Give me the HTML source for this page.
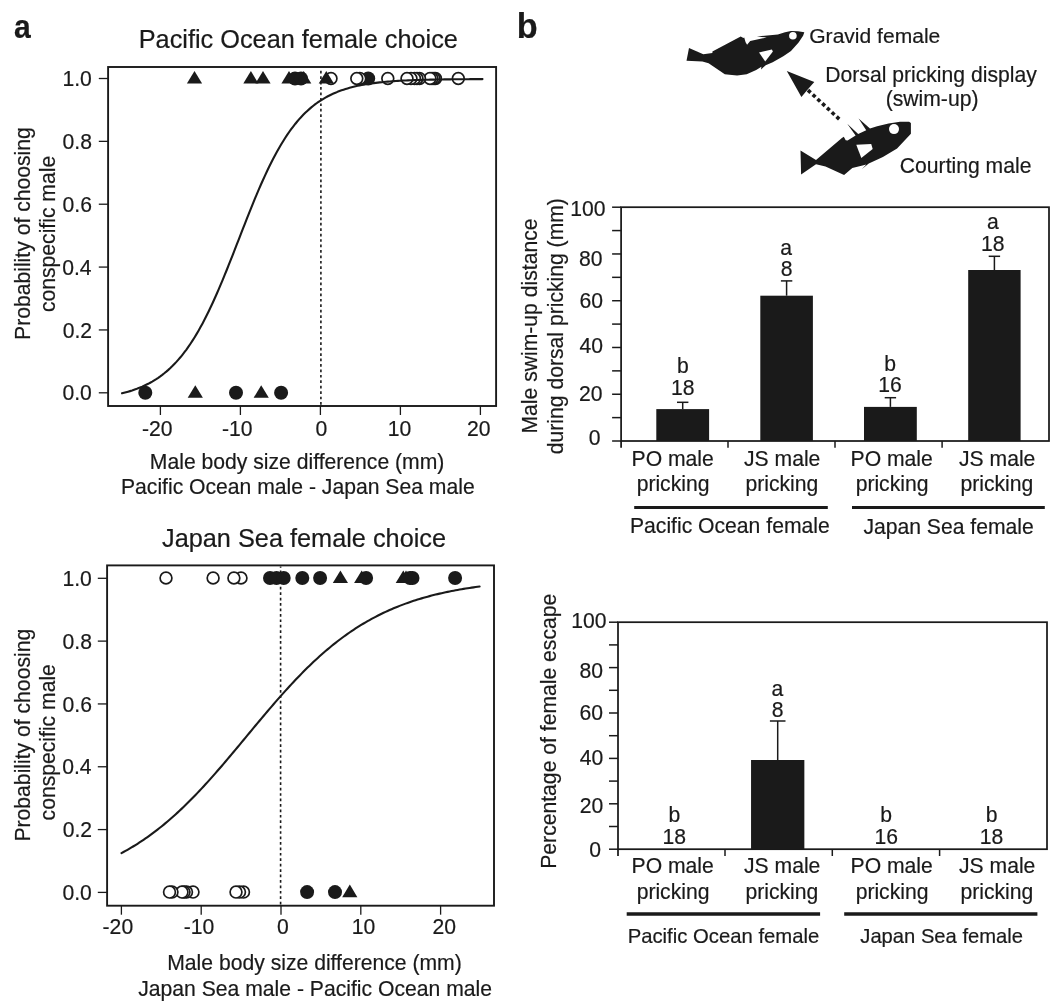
<!DOCTYPE html>
<html><head><meta charset="utf-8"><style>
html,body{margin:0;padding:0;background:#fff;}
svg{display:block;filter:grayscale(1);}
text{font-family:"Liberation Sans", sans-serif;fill:#1a1a1a;stroke:#1a1a1a;stroke-width:0.2px;}
</style></head><body>
<svg width="1050" height="1008" viewBox="0 0 1050 1008">
<rect width="1050" height="1008" fill="#fff"/>
<text transform="translate(15.0,37.7) scale(0.885,1)" x="-1.02" y="0" font-size="34" font-weight="bold">a</text>
<text x="138.71" y="48.20" font-size="25.3">Pacific Ocean female choice</text>
<rect x="108.10" y="67.00" width="388.00" height="339.00" fill="none" stroke="#1a1a1a" stroke-width="1.9"/>
<line x1="98.80" y1="392.80" x2="108.10" y2="392.80" stroke="#1a1a1a" stroke-width="1.3" />
<text x="62.39" y="400.40" font-size="21.15">0.0</text>
<line x1="98.80" y1="329.94" x2="108.10" y2="329.94" stroke="#1a1a1a" stroke-width="1.3" />
<text x="62.66" y="337.54" font-size="21.15">0.2</text>
<line x1="98.80" y1="267.08" x2="108.10" y2="267.08" stroke="#1a1a1a" stroke-width="1.3" />
<text x="62.18" y="274.68" font-size="21.15">0.4</text>
<line x1="98.80" y1="204.22" x2="108.10" y2="204.22" stroke="#1a1a1a" stroke-width="1.3" />
<text x="62.50" y="211.82" font-size="21.15">0.6</text>
<line x1="98.80" y1="141.36" x2="108.10" y2="141.36" stroke="#1a1a1a" stroke-width="1.3" />
<text x="62.50" y="148.96" font-size="21.15">0.8</text>
<line x1="98.80" y1="78.50" x2="108.10" y2="78.50" stroke="#1a1a1a" stroke-width="1.3" />
<text x="62.39" y="86.10" font-size="21.15">1.0</text>
<line x1="160.40" y1="406.00" x2="160.40" y2="415.00" stroke="#1a1a1a" stroke-width="1.3" />
<text x="142.04" y="435.60" font-size="21.15">-20</text>
<line x1="240.40" y1="406.00" x2="240.40" y2="415.00" stroke="#1a1a1a" stroke-width="1.3" />
<text x="222.04" y="435.60" font-size="21.15">-10</text>
<line x1="320.40" y1="406.00" x2="320.40" y2="415.00" stroke="#1a1a1a" stroke-width="1.3" />
<text x="315.60" y="435.60" font-size="21.15">0</text>
<line x1="400.40" y1="406.00" x2="400.40" y2="415.00" stroke="#1a1a1a" stroke-width="1.3" />
<text x="387.67" y="435.60" font-size="21.15">10</text>
<line x1="480.40" y1="406.00" x2="480.40" y2="415.00" stroke="#1a1a1a" stroke-width="1.3" />
<text x="467.03" y="435.60" font-size="21.15">20</text>
<circle cx="368.20" cy="78.50" r="7" fill="#1a1a1a"/>
<circle cx="458.30" cy="78.50" r="5.9" fill="#fff" stroke="#1a1a1a" stroke-width="1.7"/>
<circle cx="435.50" cy="78.50" r="5.9" fill="#fff" stroke="#1a1a1a" stroke-width="1.7"/>
<circle cx="434.00" cy="78.50" r="5.9" fill="#fff" stroke="#1a1a1a" stroke-width="1.7"/>
<circle cx="432.00" cy="78.50" r="5.9" fill="#fff" stroke="#1a1a1a" stroke-width="1.7"/>
<circle cx="430.00" cy="78.50" r="5.9" fill="#fff" stroke="#1a1a1a" stroke-width="1.7"/>
<circle cx="419.50" cy="78.50" r="5.9" fill="#fff" stroke="#1a1a1a" stroke-width="1.7"/>
<circle cx="417.00" cy="78.50" r="5.9" fill="#fff" stroke="#1a1a1a" stroke-width="1.7"/>
<circle cx="414.50" cy="78.50" r="5.9" fill="#fff" stroke="#1a1a1a" stroke-width="1.7"/>
<circle cx="411.00" cy="78.50" r="5.9" fill="#fff" stroke="#1a1a1a" stroke-width="1.7"/>
<circle cx="407.00" cy="78.50" r="5.9" fill="#fff" stroke="#1a1a1a" stroke-width="1.7"/>
<circle cx="387.80" cy="78.50" r="5.9" fill="#fff" stroke="#1a1a1a" stroke-width="1.7"/>
<circle cx="359.80" cy="78.50" r="5.9" fill="#fff" stroke="#1a1a1a" stroke-width="1.7"/>
<circle cx="356.80" cy="78.50" r="5.9" fill="#fff" stroke="#1a1a1a" stroke-width="1.7"/>
<circle cx="331.00" cy="78.50" r="5.9" fill="#fff" stroke="#1a1a1a" stroke-width="1.7"/>
<circle cx="295.00" cy="78.50" r="7" fill="#1a1a1a"/>
<circle cx="301.00" cy="78.50" r="7" fill="#1a1a1a"/>
<circle cx="145.30" cy="392.70" r="7" fill="#1a1a1a"/>
<circle cx="236.00" cy="392.70" r="7" fill="#1a1a1a"/>
<circle cx="281.10" cy="392.70" r="7" fill="#1a1a1a"/>
<polygon points="194.50,71.00 202.10,83.60 186.90,83.60" fill="#1a1a1a"/>
<polygon points="250.90,71.00 258.50,83.60 243.30,83.60" fill="#1a1a1a"/>
<polygon points="263.00,71.00 270.60,83.60 255.40,83.60" fill="#1a1a1a"/>
<polygon points="289.00,71.00 296.60,83.60 281.40,83.60" fill="#1a1a1a"/>
<polygon points="303.70,71.00 311.30,83.60 296.10,83.60" fill="#1a1a1a"/>
<polygon points="326.30,71.00 333.90,83.60 318.70,83.60" fill="#1a1a1a"/>
<polygon points="195.30,385.20 202.90,397.80 187.70,397.80" fill="#1a1a1a"/>
<polygon points="261.20,385.20 268.80,397.80 253.60,397.80" fill="#1a1a1a"/>
<line x1="320.90" y1="68.00" x2="320.90" y2="405.00" stroke="#1a1a1a" stroke-width="1.6" stroke-dasharray="2.7 2.73" stroke-dashoffset="2.6"/>
<path d="M122.00,393.33 L124.01,392.83 L126.03,392.30 L128.04,391.73 L130.06,391.13 L132.07,390.50 L134.08,389.82 L136.10,389.11 L138.11,388.35 L140.13,387.54 L142.14,386.69 L144.15,385.78 L146.17,384.82 L148.18,383.81 L150.20,382.73 L152.21,381.60 L154.22,380.39 L156.24,379.12 L158.25,377.78 L160.27,376.36 L162.28,374.87 L164.29,373.29 L166.31,371.62 L168.32,369.87 L170.34,368.03 L172.35,366.08 L174.36,364.04 L176.38,361.90 L178.39,359.65 L180.41,357.29 L182.42,354.81 L184.43,352.22 L186.45,349.52 L188.46,346.69 L190.47,343.74 L192.49,340.66 L194.50,337.46 L196.52,334.13 L198.53,330.68 L200.54,327.09 L202.56,323.38 L204.57,319.55 L206.59,315.58 L208.60,311.50 L210.61,307.30 L212.63,302.98 L214.64,298.55 L216.66,294.02 L218.67,289.38 L220.68,284.66 L222.70,279.84 L224.71,274.95 L226.73,269.99 L228.74,264.96 L230.75,259.88 L232.77,254.77 L234.78,249.62 L236.80,244.44 L238.81,239.26 L240.82,234.08 L242.84,228.91 L244.85,223.76 L246.87,218.64 L248.88,213.57 L250.89,208.54 L252.91,203.58 L254.92,198.69 L256.94,193.88 L258.95,189.15 L260.96,184.52 L262.98,179.99 L264.99,175.56 L267.01,171.25 L269.02,167.06 L271.03,162.98 L273.05,159.03 L275.06,155.21 L277.08,151.51 L279.09,147.94 L281.10,144.50 L283.12,141.18 L285.13,138.00 L287.15,134.94 L289.16,132.01 L291.17,129.21 L293.19,126.52 L295.20,123.96 L297.22,121.51 L299.23,119.18 L301.24,116.95 L303.26,114.84 L305.27,112.83 L307.28,110.91 L309.30,109.10 L311.31,107.37 L313.33,105.74 L315.34,104.19 L317.35,102.73 L319.37,101.34 L321.38,100.03 L323.40,98.79 L325.41,97.62 L327.42,96.51 L329.44,95.47 L331.45,94.48 L333.47,93.56 L335.48,92.68 L337.49,91.85 L339.51,91.08 L341.52,90.34 L343.54,89.65 L345.55,89.01 L347.56,88.39 L349.58,87.82 L351.59,87.28 L353.61,86.77 L355.62,86.29 L357.63,85.84 L359.65,85.42 L361.66,85.03 L363.68,84.65 L365.69,84.30 L367.70,83.97 L369.72,83.67 L371.73,83.38 L373.75,83.10 L375.76,82.85 L377.77,82.61 L379.79,82.38 L381.80,82.17 L383.82,81.97 L385.83,81.79 L387.84,81.61 L389.86,81.45 L391.87,81.30 L393.89,81.15 L395.90,81.02 L397.91,80.89 L399.93,80.77 L401.94,80.66 L403.96,80.56 L405.97,80.46 L407.98,80.37 L410.00,80.28 L412.01,80.20 L414.03,80.12 L416.04,80.05 L418.05,79.99 L420.07,79.92 L422.08,79.86 L424.09,79.81 L426.11,79.76 L428.12,79.71 L430.14,79.66 L432.15,79.62 L434.16,79.58 L436.18,79.54 L438.19,79.51 L440.21,79.48 L442.22,79.45 L444.23,79.42 L446.25,79.39 L448.26,79.37 L450.28,79.34 L452.29,79.32 L454.30,79.30 L456.32,79.28 L458.33,79.26 L460.35,79.24 L462.36,79.23 L464.37,79.21 L466.39,79.20 L468.40,79.19 L470.42,79.17 L472.43,79.16 L474.44,79.15 L476.46,79.14 L478.47,79.13 L480.49,79.12 L482.50,79.11" fill="none" stroke="#1a1a1a" stroke-width="2.1" stroke-linecap="round" stroke-linejoin="round"/>
<text x="149.86" y="468.90" font-size="21.15">Male body size difference (mm)</text>
<text x="120.96" y="493.60" font-size="21.15">Pacific Ocean male - Japan Sea male</text>
<text transform="translate(30.30,339.94) rotate(-90)" x="0" y="0" font-size="21.15">Probability of choosing</text>
<text transform="translate(55.40,312.10) rotate(-90)" x="0" y="0" font-size="21.15">conspecific male</text>
<text x="162.02" y="547.00" font-size="25.3">Japan Sea female choice</text>
<rect x="107.10" y="565.40" width="386.90" height="340.30" fill="none" stroke="#1a1a1a" stroke-width="1.9"/>
<line x1="97.80" y1="892.40" x2="107.10" y2="892.40" stroke="#1a1a1a" stroke-width="1.3" />
<text x="62.39" y="900.00" font-size="21.15">0.0</text>
<line x1="97.80" y1="829.58" x2="107.10" y2="829.58" stroke="#1a1a1a" stroke-width="1.3" />
<text x="62.66" y="837.18" font-size="21.15">0.2</text>
<line x1="97.80" y1="766.76" x2="107.10" y2="766.76" stroke="#1a1a1a" stroke-width="1.3" />
<text x="62.18" y="774.36" font-size="21.15">0.4</text>
<line x1="97.80" y1="703.94" x2="107.10" y2="703.94" stroke="#1a1a1a" stroke-width="1.3" />
<text x="62.50" y="711.54" font-size="21.15">0.6</text>
<line x1="97.80" y1="641.12" x2="107.10" y2="641.12" stroke="#1a1a1a" stroke-width="1.3" />
<text x="62.50" y="648.72" font-size="21.15">0.8</text>
<line x1="97.80" y1="578.30" x2="107.10" y2="578.30" stroke="#1a1a1a" stroke-width="1.3" />
<text x="62.39" y="585.90" font-size="21.15">1.0</text>
<line x1="121.40" y1="905.70" x2="121.40" y2="914.70" stroke="#1a1a1a" stroke-width="1.3" />
<text x="102.59" y="934.40" font-size="21.15">-20</text>
<line x1="201.20" y1="905.70" x2="201.20" y2="914.70" stroke="#1a1a1a" stroke-width="1.3" />
<text x="183.64" y="934.40" font-size="21.15">-10</text>
<line x1="281.00" y1="905.70" x2="281.00" y2="914.70" stroke="#1a1a1a" stroke-width="1.3" />
<text x="276.90" y="934.40" font-size="21.15">0</text>
<line x1="360.80" y1="905.70" x2="360.80" y2="914.70" stroke="#1a1a1a" stroke-width="1.3" />
<text x="351.67" y="934.40" font-size="21.15">10</text>
<line x1="440.60" y1="905.70" x2="440.60" y2="914.70" stroke="#1a1a1a" stroke-width="1.3" />
<text x="432.43" y="934.40" font-size="21.15">20</text>
<circle cx="241.00" cy="578.00" r="5.9" fill="#fff" stroke="#1a1a1a" stroke-width="1.7"/>
<circle cx="233.90" cy="578.00" r="5.9" fill="#fff" stroke="#1a1a1a" stroke-width="1.7"/>
<circle cx="213.10" cy="578.00" r="5.9" fill="#fff" stroke="#1a1a1a" stroke-width="1.7"/>
<circle cx="166.00" cy="578.00" r="5.9" fill="#fff" stroke="#1a1a1a" stroke-width="1.7"/>
<circle cx="243.50" cy="892.10" r="5.9" fill="#fff" stroke="#1a1a1a" stroke-width="1.7"/>
<circle cx="239.50" cy="892.10" r="5.9" fill="#fff" stroke="#1a1a1a" stroke-width="1.7"/>
<circle cx="236.00" cy="892.10" r="5.9" fill="#fff" stroke="#1a1a1a" stroke-width="1.7"/>
<circle cx="193.00" cy="892.10" r="5.9" fill="#fff" stroke="#1a1a1a" stroke-width="1.7"/>
<circle cx="186.50" cy="892.10" r="5.9" fill="#fff" stroke="#1a1a1a" stroke-width="1.7"/>
<circle cx="184.00" cy="892.10" r="5.9" fill="#fff" stroke="#1a1a1a" stroke-width="1.7"/>
<circle cx="182.00" cy="892.10" r="5.9" fill="#fff" stroke="#1a1a1a" stroke-width="1.7"/>
<circle cx="172.00" cy="892.10" r="5.9" fill="#fff" stroke="#1a1a1a" stroke-width="1.7"/>
<circle cx="169.50" cy="892.10" r="5.9" fill="#fff" stroke="#1a1a1a" stroke-width="1.7"/>
<circle cx="270.00" cy="578.00" r="7" fill="#1a1a1a"/>
<circle cx="276.50" cy="578.00" r="7" fill="#1a1a1a"/>
<circle cx="283.70" cy="578.00" r="7" fill="#1a1a1a"/>
<circle cx="302.30" cy="578.00" r="7" fill="#1a1a1a"/>
<circle cx="320.10" cy="578.00" r="7" fill="#1a1a1a"/>
<circle cx="366.10" cy="578.00" r="7" fill="#1a1a1a"/>
<circle cx="410.00" cy="578.00" r="7" fill="#1a1a1a"/>
<circle cx="412.50" cy="578.00" r="7" fill="#1a1a1a"/>
<circle cx="455.10" cy="578.00" r="7" fill="#1a1a1a"/>
<circle cx="307.10" cy="892.10" r="7" fill="#1a1a1a"/>
<circle cx="335.00" cy="892.10" r="7" fill="#1a1a1a"/>
<polygon points="340.40,570.50 348.00,583.10 332.80,583.10" fill="#1a1a1a"/>
<polygon points="361.70,570.50 369.30,583.10 354.10,583.10" fill="#1a1a1a"/>
<polygon points="403.30,570.50 410.90,583.10 395.70,583.10" fill="#1a1a1a"/>
<polygon points="406.00,570.50 413.60,583.10 398.40,583.10" fill="#1a1a1a"/>
<polygon points="349.80,884.60 357.40,897.20 342.20,897.20" fill="#1a1a1a"/>
<line x1="280.60" y1="566.40" x2="280.60" y2="904.70" stroke="#1a1a1a" stroke-width="1.6" stroke-dasharray="2.7 2.73" stroke-dashoffset="1.3"/>
<path d="M121.50,853.12 L123.50,852.04 L125.50,850.94 L127.50,849.81 L129.50,848.65 L131.50,847.47 L133.50,846.26 L135.50,845.03 L137.50,843.77 L139.51,842.48 L141.51,841.17 L143.51,839.82 L145.51,838.45 L147.51,837.05 L149.51,835.62 L151.51,834.17 L153.51,832.68 L155.51,831.17 L157.51,829.63 L159.51,828.05 L161.51,826.45 L163.51,824.83 L165.51,823.17 L167.51,821.48 L169.51,819.77 L171.51,818.02 L173.51,816.25 L175.52,814.45 L177.52,812.62 L179.52,810.77 L181.52,808.88 L183.52,806.97 L185.52,805.03 L187.52,803.07 L189.52,801.08 L191.52,799.07 L193.52,797.03 L195.52,794.96 L197.52,792.87 L199.52,790.76 L201.52,788.62 L203.52,786.47 L205.52,784.29 L207.52,782.09 L209.52,779.87 L211.53,777.63 L213.53,775.38 L215.53,773.10 L217.53,770.81 L219.53,768.51 L221.53,766.19 L223.53,763.86 L225.53,761.51 L227.53,759.15 L229.53,756.78 L231.53,754.41 L233.53,752.02 L235.53,749.63 L237.53,747.23 L239.53,744.82 L241.53,742.41 L243.53,740.00 L245.53,737.59 L247.54,735.17 L249.54,732.76 L251.54,730.35 L253.54,727.94 L255.54,725.53 L257.54,723.13 L259.54,720.74 L261.54,718.35 L263.54,715.97 L265.54,713.60 L267.54,711.25 L269.54,708.90 L271.54,706.56 L273.54,704.24 L275.54,701.93 L277.54,699.64 L279.54,697.36 L281.54,695.10 L283.55,692.86 L285.55,690.64 L287.55,688.44 L289.55,686.25 L291.55,684.09 L293.55,681.95 L295.55,679.83 L297.55,677.74 L299.55,675.67 L301.55,673.62 L303.55,671.59 L305.55,669.60 L307.55,667.62 L309.55,665.68 L311.55,663.76 L313.55,661.86 L315.55,659.99 L317.55,658.15 L319.56,656.34 L321.56,654.56 L323.56,652.80 L325.56,651.07 L327.56,649.37 L329.56,647.70 L331.56,646.05 L333.56,644.43 L335.56,642.84 L337.56,641.28 L339.56,639.75 L341.56,638.25 L343.56,636.77 L345.56,635.32 L347.56,633.90 L349.56,632.51 L351.56,631.14 L353.56,629.81 L355.57,628.49 L357.57,627.21 L359.57,625.95 L361.57,624.72 L363.57,623.51 L365.57,622.33 L367.57,621.18 L369.57,620.05 L371.57,618.94 L373.57,617.86 L375.57,616.81 L377.57,615.78 L379.57,614.77 L381.57,613.78 L383.57,612.82 L385.57,611.88 L387.57,610.96 L389.57,610.06 L391.58,609.19 L393.58,608.33 L395.58,607.50 L397.58,606.69 L399.58,605.89 L401.58,605.12 L403.58,604.37 L405.58,603.63 L407.58,602.91 L409.58,602.21 L411.58,601.53 L413.58,600.87 L415.58,600.22 L417.58,599.59 L419.58,598.97 L421.58,598.37 L423.58,597.79 L425.58,597.22 L427.59,596.67 L429.59,596.13 L431.59,595.60 L433.59,595.09 L435.59,594.60 L437.59,594.11 L439.59,593.64 L441.59,593.18 L443.59,592.74 L445.59,592.30 L447.59,591.88 L449.59,591.47 L451.59,591.07 L453.59,590.68 L455.59,590.30 L457.59,589.94 L459.59,589.58 L461.59,589.23 L463.60,588.89 L465.60,588.56 L467.60,588.25 L469.60,587.93 L471.60,587.63 L473.60,587.34 L475.60,587.05 L477.60,586.78 L479.60,586.51" fill="none" stroke="#1a1a1a" stroke-width="2.1" stroke-linecap="round" stroke-linejoin="round"/>
<text x="167.26" y="970.20" font-size="21.15">Male body size difference (mm)</text>
<text x="138.28" y="995.50" font-size="21.15">Japan Sea male - Pacific Ocean male</text>
<text transform="translate(30.30,841.54) rotate(-90)" x="0" y="0" font-size="21.15">Probability of choosing</text>
<text transform="translate(55.40,820.40) rotate(-90)" x="0" y="0" font-size="21.15">conspecific male</text>
<text x="516.77" y="37.60" font-size="34.3" font-weight="bold">b</text>
<text x="809.25" y="43.00" font-size="21.05">Gravid female</text>
<text x="825.26" y="81.50" font-size="21.15">Dorsal pricking display</text>
<text x="885.68" y="106.20" font-size="21.15">(swim-up)</text>
<text x="899.84" y="172.50" font-size="21.15">Courting male</text>
<path d="M689,48.1 L703.3,54.3 L712.4,52.9 L712.4,51.4 L740.7,36.5 L743.4,38.0 L744.2,37.6 L745.6,42.2 L747.1,44.7 L750.2,41.1 L766.7,37.5 L756.9,36.4 L777.9,34.6 L785,32.3 L791,31.1 L798,31.2 L804.3,32.2 L803.1,35.7 L798.6,42.5 L791,50.9 L783.3,56.2 L772.7,62.3 L765.7,65.2 L761,69.5 L761.4,66.7 L756.2,70 L746.7,74.3 L737.1,75.5 L729.5,74.8 L724.8,74.3 L708.6,63.3 L702.4,61.4 L686.5,60.7 Z" fill="#1a1a1a"/>
<polygon points="759,52.4 771.9,49.5 772.9,51.4 765.2,61.4" fill="#fff"/>
<circle cx="792.9" cy="35.7" r="3.8" fill="#fff"/>
<path d="M800.5,150.5 L816,160 L841.9,137.9 L843.8,136.8 L845.7,140.2 L847.6,140.6 L855.6,135.6 L847.2,123.8 L858.2,134.1 L866.2,130.3 L858.6,118.5 L870,128.6 L877.1,126.3 L888.6,123.4 L900,121.7 L909.1,121.7 L910.9,123.1 L910.9,133.7 L897.1,148.6 L882.9,157.1 L868.8,163.6 L862.0,168.9 L866.3,164.5 L861.5,165.7 L852.3,168.0 L844.1,174.9 L825.5,166.5 L816,164.2 L801.1,174.5 Z" fill="#1a1a1a"/>
<polygon points="856.3,144.8 871.2,144 872.7,149 861.3,158.1" fill="#fff"/>
<circle cx="894" cy="129.1" r="5" fill="#fff"/>
<polygon points="786.8,71.1 814.3,82.1 807.9,89.3 801.4,97.1" fill="#1a1a1a"/>
<rect x="807.50" y="89.60" width="3.6" height="3.6" fill="#1a1a1a" transform="rotate(43 809.30 91.40)"/>
<rect x="812.27" y="94.02" width="3.6" height="3.6" fill="#1a1a1a" transform="rotate(43 814.07 95.82)"/>
<rect x="817.03" y="98.43" width="3.6" height="3.6" fill="#1a1a1a" transform="rotate(43 818.83 100.23)"/>
<rect x="821.80" y="102.85" width="3.6" height="3.6" fill="#1a1a1a" transform="rotate(43 823.60 104.65)"/>
<rect x="826.57" y="107.27" width="3.6" height="3.6" fill="#1a1a1a" transform="rotate(43 828.37 109.07)"/>
<rect x="831.33" y="111.68" width="3.6" height="3.6" fill="#1a1a1a" transform="rotate(43 833.13 113.48)"/>
<rect x="836.10" y="116.10" width="3.6" height="3.6" fill="#1a1a1a" transform="rotate(43 837.90 117.90)"/>
<rect x="621.10" y="207.20" width="427.90" height="233.80" fill="none" stroke="#1a1a1a" stroke-width="1.75"/>
<line x1="621.10" y1="441.00" x2="621.10" y2="447.80" stroke="#1a1a1a" stroke-width="1.75" />
<line x1="612.10" y1="441.00" x2="621.10" y2="441.00" stroke="#1a1a1a" stroke-width="1.5" />
<text x="588.75" y="444.70" font-size="21.15">0</text>
<line x1="612.10" y1="417.62" x2="621.10" y2="417.62" stroke="#1a1a1a" stroke-width="1.5" />
<line x1="612.10" y1="394.24" x2="621.10" y2="394.24" stroke="#1a1a1a" stroke-width="1.5" />
<text x="579.12" y="400.60" font-size="21.15">20</text>
<line x1="612.10" y1="370.86" x2="621.10" y2="370.86" stroke="#1a1a1a" stroke-width="1.5" />
<line x1="612.10" y1="347.48" x2="621.10" y2="347.48" stroke="#1a1a1a" stroke-width="1.5" />
<text x="579.42" y="352.80" font-size="21.15">40</text>
<line x1="612.10" y1="324.10" x2="621.10" y2="324.10" stroke="#1a1a1a" stroke-width="1.5" />
<line x1="612.10" y1="300.72" x2="621.10" y2="300.72" stroke="#1a1a1a" stroke-width="1.5" />
<text x="579.52" y="308.30" font-size="21.15">60</text>
<line x1="612.10" y1="277.34" x2="621.10" y2="277.34" stroke="#1a1a1a" stroke-width="1.5" />
<line x1="612.10" y1="253.96" x2="621.10" y2="253.96" stroke="#1a1a1a" stroke-width="1.5" />
<text x="579.02" y="265.50" font-size="21.15">80</text>
<line x1="612.10" y1="230.58" x2="621.10" y2="230.58" stroke="#1a1a1a" stroke-width="1.5" />
<line x1="612.10" y1="207.20" x2="621.10" y2="207.20" stroke="#1a1a1a" stroke-width="1.5" />
<text x="570.13" y="216.10" font-size="21.15">100</text>
<line x1="728.00" y1="441.00" x2="728.00" y2="447.80" stroke="#1a1a1a" stroke-width="1.5" />
<line x1="835.00" y1="441.00" x2="835.00" y2="447.80" stroke="#1a1a1a" stroke-width="1.5" />
<line x1="942.10" y1="441.00" x2="942.10" y2="447.80" stroke="#1a1a1a" stroke-width="1.5" />
<rect x="656.30" y="409.10" width="52.80" height="31.90" fill="#1a1a1a"/>
<line x1="682.70" y1="402.30" x2="682.70" y2="409.10" stroke="#1a1a1a" stroke-width="1.5" />
<line x1="677.00" y1="402.30" x2="688.40" y2="402.30" stroke="#1a1a1a" stroke-width="1.5" />
<text x="671.12" y="395.20" font-size="21.15">18</text>
<text x="677.07" y="373.30" font-size="21.15">b</text>
<rect x="760.30" y="295.70" width="52.60" height="145.30" fill="#1a1a1a"/>
<line x1="786.60" y1="280.90" x2="786.60" y2="295.70" stroke="#1a1a1a" stroke-width="1.5" />
<line x1="780.90" y1="280.90" x2="792.30" y2="280.90" stroke="#1a1a1a" stroke-width="1.5" />
<text x="780.73" y="276.40" font-size="21.15">8</text>
<text x="780.28" y="254.70" font-size="21.15">a</text>
<rect x="864.00" y="406.90" width="52.80" height="34.10" fill="#1a1a1a"/>
<line x1="890.40" y1="397.70" x2="890.40" y2="406.90" stroke="#1a1a1a" stroke-width="1.5" />
<line x1="884.70" y1="397.70" x2="896.10" y2="397.70" stroke="#1a1a1a" stroke-width="1.5" />
<text x="878.32" y="391.80" font-size="21.15">16</text>
<text x="884.27" y="370.70" font-size="21.15">b</text>
<rect x="968.20" y="270.00" width="52.40" height="171.00" fill="#1a1a1a"/>
<line x1="994.40" y1="256.30" x2="994.40" y2="270.00" stroke="#1a1a1a" stroke-width="1.5" />
<line x1="988.70" y1="256.30" x2="1000.10" y2="256.30" stroke="#1a1a1a" stroke-width="1.5" />
<text x="981.12" y="250.80" font-size="21.15">18</text>
<text x="986.88" y="228.50" font-size="21.15">a</text>
<text x="631.54" y="465.80" font-size="21.15">PO male</text>
<text x="636.64" y="491.20" font-size="21.15">pricking</text>
<text x="744.02" y="465.80" font-size="21.15">JS male</text>
<text x="745.44" y="491.20" font-size="21.15">pricking</text>
<text x="850.54" y="465.80" font-size="21.15">PO male</text>
<text x="855.64" y="491.20" font-size="21.15">pricking</text>
<text x="959.02" y="465.80" font-size="21.15">JS male</text>
<text x="960.44" y="491.20" font-size="21.15">pricking</text>
<line x1="634.20" y1="507.50" x2="827.80" y2="507.50" stroke="#1a1a1a" stroke-width="3.0" />
<line x1="852.00" y1="507.50" x2="1044.80" y2="507.50" stroke="#1a1a1a" stroke-width="3.0" />
<text x="629.96" y="533.00" font-size="21.15">Pacific Ocean female</text>
<text x="863.38" y="533.60" font-size="21.15">Japan Sea female</text>
<text transform="translate(537.30,433.54) rotate(-90)" x="0" y="0" font-size="21.15">Male swim-up distance</text>
<text transform="translate(562.60,454.20) rotate(-90)" x="0" y="0" font-size="21.15">during dorsal pricking (mm)</text>
<rect x="618.00" y="622.20" width="429.00" height="227.00" fill="none" stroke="#1a1a1a" stroke-width="1.75"/>
<line x1="618.00" y1="849.20" x2="618.00" y2="856.00" stroke="#1a1a1a" stroke-width="1.75" />
<line x1="609.00" y1="849.20" x2="618.00" y2="849.20" stroke="#1a1a1a" stroke-width="1.5" />
<text x="589.35" y="856.60" font-size="21.15">0</text>
<line x1="609.00" y1="826.50" x2="618.00" y2="826.50" stroke="#1a1a1a" stroke-width="1.5" />
<line x1="609.00" y1="803.80" x2="618.00" y2="803.80" stroke="#1a1a1a" stroke-width="1.5" />
<text x="579.72" y="813.10" font-size="21.15">20</text>
<line x1="609.00" y1="781.10" x2="618.00" y2="781.10" stroke="#1a1a1a" stroke-width="1.5" />
<line x1="609.00" y1="758.40" x2="618.00" y2="758.40" stroke="#1a1a1a" stroke-width="1.5" />
<text x="579.72" y="765.20" font-size="21.15">40</text>
<line x1="609.00" y1="735.70" x2="618.00" y2="735.70" stroke="#1a1a1a" stroke-width="1.5" />
<line x1="609.00" y1="713.00" x2="618.00" y2="713.00" stroke="#1a1a1a" stroke-width="1.5" />
<text x="579.62" y="720.20" font-size="21.15">60</text>
<line x1="609.00" y1="690.30" x2="618.00" y2="690.30" stroke="#1a1a1a" stroke-width="1.5" />
<line x1="609.00" y1="667.60" x2="618.00" y2="667.60" stroke="#1a1a1a" stroke-width="1.5" />
<text x="579.62" y="677.70" font-size="21.15">80</text>
<line x1="609.00" y1="644.90" x2="618.00" y2="644.90" stroke="#1a1a1a" stroke-width="1.5" />
<line x1="609.00" y1="622.20" x2="618.00" y2="622.20" stroke="#1a1a1a" stroke-width="1.5" />
<text x="571.33" y="627.70" font-size="21.15">100</text>
<line x1="725.00" y1="849.20" x2="725.00" y2="856.00" stroke="#1a1a1a" stroke-width="1.5" />
<line x1="832.30" y1="849.20" x2="832.30" y2="856.00" stroke="#1a1a1a" stroke-width="1.5" />
<line x1="939.60" y1="849.20" x2="939.60" y2="856.00" stroke="#1a1a1a" stroke-width="1.5" />
<text x="662.52" y="843.70" font-size="21.15">18</text>
<text x="668.47" y="821.50" font-size="21.15">b</text>
<rect x="751.05" y="760.00" width="53.30" height="89.20" fill="#1a1a1a"/>
<line x1="777.70" y1="721.00" x2="777.70" y2="760.00" stroke="#1a1a1a" stroke-width="1.5" />
<line x1="769.90" y1="721.00" x2="785.50" y2="721.00" stroke="#1a1a1a" stroke-width="1.5" />
<text x="771.83" y="716.80" font-size="21.15">8</text>
<text x="771.38" y="696.10" font-size="21.15">a</text>
<text x="874.42" y="843.70" font-size="21.15">16</text>
<text x="880.37" y="821.50" font-size="21.15">b</text>
<text x="979.72" y="843.70" font-size="21.15">18</text>
<text x="985.67" y="821.50" font-size="21.15">b</text>
<text x="631.54" y="873.30" font-size="21.15">PO male</text>
<text x="636.64" y="898.80" font-size="21.15">pricking</text>
<text x="744.02" y="873.30" font-size="21.15">JS male</text>
<text x="745.44" y="898.80" font-size="21.15">pricking</text>
<text x="850.54" y="873.30" font-size="21.15">PO male</text>
<text x="855.64" y="898.80" font-size="21.15">pricking</text>
<text x="959.02" y="873.30" font-size="21.15">JS male</text>
<text x="960.44" y="898.80" font-size="21.15">pricking</text>
<line x1="626.70" y1="914.00" x2="820.10" y2="914.00" stroke="#1a1a1a" stroke-width="3.3" />
<line x1="844.20" y1="914.00" x2="1037.40" y2="914.00" stroke="#1a1a1a" stroke-width="3.3" />
<text x="627.63" y="943.00" font-size="20.3">Pacific Ocean female</text>
<text x="860.30" y="942.80" font-size="20.2">Japan Sea female</text>
<text transform="translate(556.20,868.74) rotate(-90)" x="0" y="0" font-size="21.15">Percentage of female escape</text>
</svg>
</body></html>
